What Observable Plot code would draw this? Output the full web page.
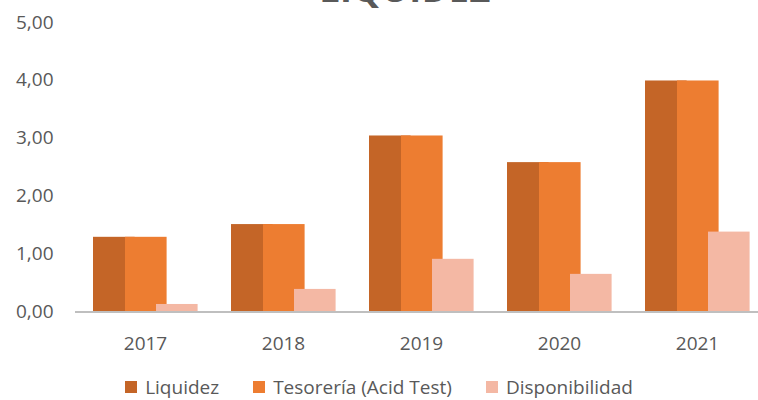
<!DOCTYPE html>
<html>
<head>
<meta charset="utf-8">
<script src="https://cdn.jsdelivr.net/npm/d3@7"></script>
<script src="https://cdn.jsdelivr.net/npm/@observablehq/plot@0.6"></script>
<style>
  html, body { margin: 0; padding: 0; background: #fff; }
  #wrap { position: relative; width: 758px; height: 400px; overflow: hidden; font-family: "Open Sans", sans-serif; color: #595959; }
  #title { position: absolute; left: 26px; width: 758px; top: -31px; text-align: center; font-size: 36px; font-weight: 700; color: #595959; letter-spacing: 0.5px; line-height: 40px; white-space: nowrap; }
  #chart { position: absolute; left: 0; top: 0; }
  #legend { position: absolute; left: 0; width: 758px; top: 375px; display: flex; justify-content: center; gap: 34px; font-size: 19px; line-height: 24px; white-space: nowrap; }
  #legend span.item { display: inline-flex; align-items: center; gap: 8px; }
  #legend i { display: inline-block; width: 12px; height: 12px; }
</style>
</head>
<body>
<div id="wrap">
  <div id="chart"></div>
  <div id="title">LIQUIDEZ</div>
  <div id="legend"></div>
</div>
<script>
const years = ["2017", "2018", "2019", "2020", "2021"];
const liquidez = [1.29, 1.51, 3.04, 2.58, 3.99];
const tesoreria = [1.29, 1.51, 3.04, 2.58, 3.99];
const disponibilidad = [0.13, 0.39, 0.91, 0.65, 1.38];
const seriesNames = ["Liquidez", "Tesorería (Acid Test)", "Disponibilidad"];
const seriesColors = ["#c46527", "#ed7d31", "#f4b8a4"];
const yTicks = [0, 1, 2, 3, 4, 5];

const rows = (vals) => years.map((y, i) => ({ year: y, value: vals[i] }));
const fmt = d => d.toFixed(2).replace(".", ",");

const chart = Plot.plot({
  width: 758,
  height: 365,
  marginLeft: 75,
  marginRight: 0,
  marginTop: 0,
  marginBottom: 0,
  style: { fontFamily: "'Open Sans', sans-serif", fontSize: "19px", color: "#595959", background: "transparent", overflow: "visible" },
  x: { domain: years, range: [75, 767], padding: 0, axis: null, label: null },
  y: { domain: [0, 5], range: [311.5, 22], axis: null, label: null },
  marks: [
    Plot.barY(rows(liquidez), { x: "year", y: "value", fill: seriesColors[0], insetLeft: 17, insetRight: 79.4 }),
    Plot.barY(rows(tesoreria), { x: "year", y: "value", fill: seriesColors[1], insetLeft: 49, insetRight: 47.4 }),
    Plot.barY(rows(disponibilidad), { x: "year", y: "value", fill: seriesColors[2], insetLeft: 80, insetRight: 16.4 }),
    Plot.ruleY([0], { stroke: "#bfbfbf", strokeWidth: 2 }),
    Plot.axisY(yTicks, { anchor: "left", tickSize: 0, tickPadding: 22, tickFormat: fmt, fill: "#595959", fontSize: 19, label: null }),
    Plot.axisX(years, { anchor: "bottom", y: 0, tickSize: 0, tickPadding: 0, dy: 24, fill: "#595959", fontSize: 19, label: null })
  ]
});
document.getElementById("chart").appendChild(chart);

const legend = document.getElementById("legend");
seriesNames.forEach((n, i) => {
  const s = document.createElement("span");
  s.className = "item";
  const sw = document.createElement("i");
  sw.style.background = seriesColors[i];
  s.appendChild(sw);
  s.appendChild(document.createTextNode(n));
  legend.appendChild(s);
});
</script>
</body>
</html>
